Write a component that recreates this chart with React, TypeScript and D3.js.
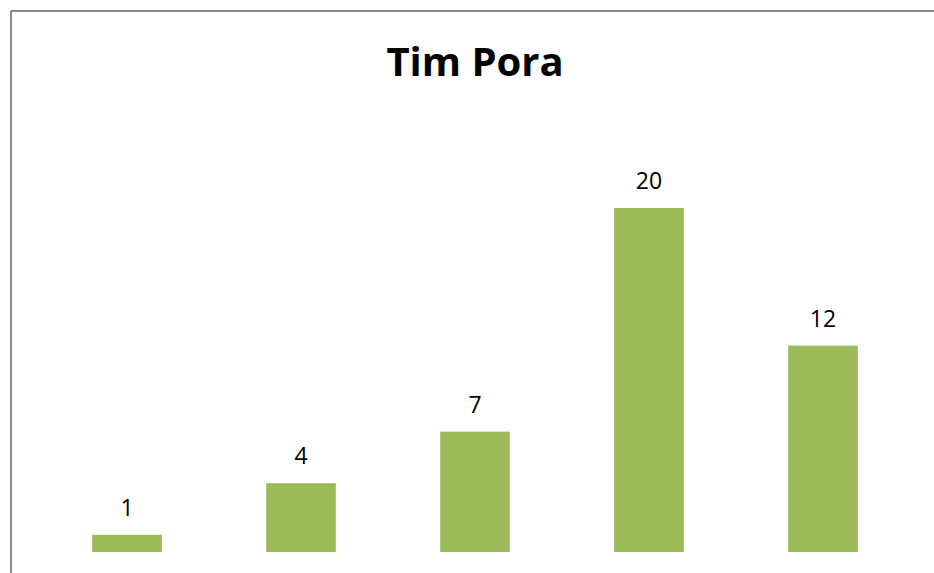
import React from "react";
import * as d3 from "d3";

const categories = ["A", "B", "C", "D", "E"];
const values = [1, 4, 7, 20, 12];
const title = "Tim Pora";

const W = 934;
const H = 573;

export default function App() {
  const x = d3.scaleBand<string>().domain(categories).range([40, 910]).paddingInner(0.6).paddingOuter(0.3);
  const y = d3.scaleLinear().domain([0, 25]).range([552, 122]);
  return (
    <svg width={W} height={H} style={{ position: "absolute", left: 0, top: 0, background: "#fff" }}>
      <rect x={0} y={0} width={W} height={H} fill="#fff" />
      <line x1={11} y1={11} x2={W} y2={11} stroke="#898989" strokeWidth={2} />
      <line x1={11} y1={11} x2={11} y2={H} stroke="#898989" strokeWidth={2} />
      <text x={475} y={76} textAnchor="middle" fontFamily="'Open Sans', sans-serif" fontWeight={700} fontSize={40} fill="#000">
        {title}
      </text>
      {categories.map((c, i) => (
        <g key={c}>
          <rect x={x(c)} y={y(values[i])} width={x.bandwidth()} height={y(0) - y(values[i])} fill="#9bbb59" />
          <text x={(x(c) as number) + x.bandwidth() / 2} y={y(values[i]) - 19} textAnchor="middle" fontFamily="'Open Sans', sans-serif" fontSize={23} fill="#000">
            {values[i]}
          </text>
        </g>
      ))}
    </svg>
  );
}
